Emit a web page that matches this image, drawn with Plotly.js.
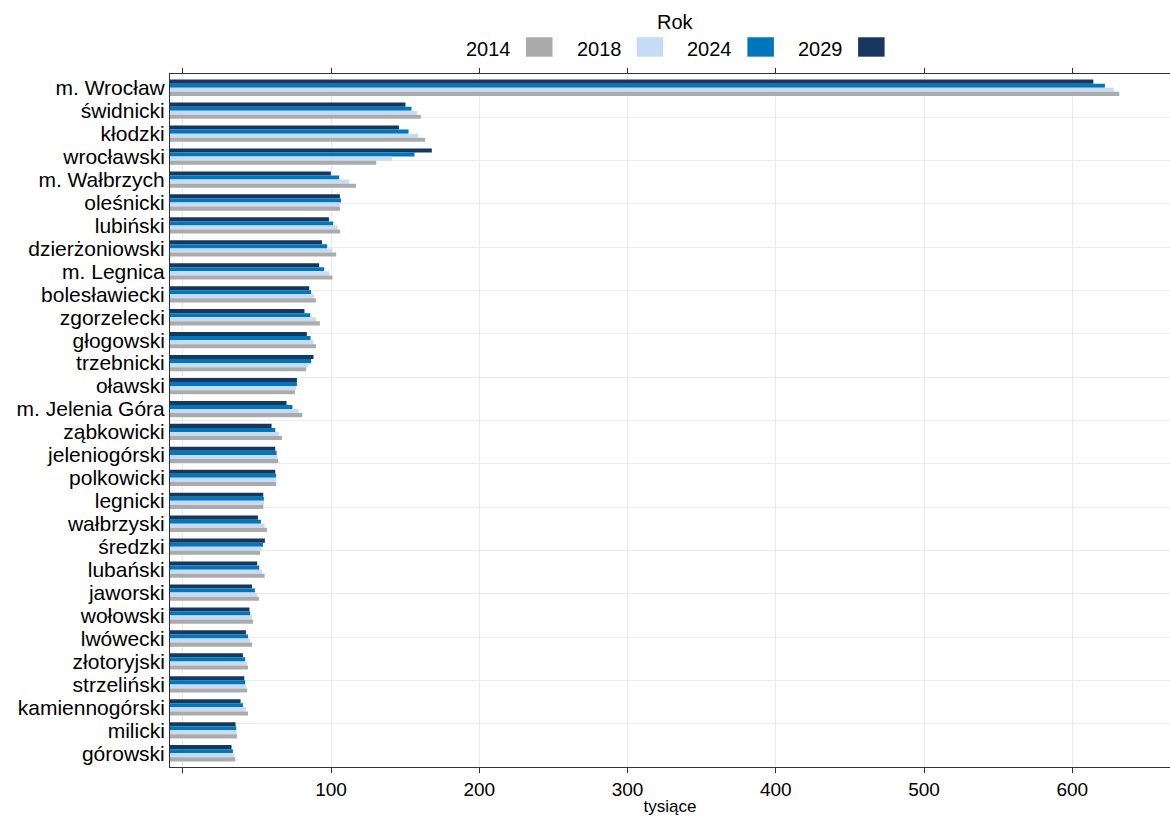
<!DOCTYPE html>
<html>
<head>
<meta charset="utf-8">
<script src="https://cdn.plot.ly/plotly-3.0.1.min.js"></script>
<style>
html, body { margin: 0; padding: 0; background: #ffffff; }
#chart { width: 1170px; height: 816px; }
</style>
</head>
<body>
<div id="chart"></div>
<script>
// ---- data ----
const categories = [
  'm. Wrocław', 'świdnicki', 'kłodzki', 'wrocławski', 'm. Wałbrzych', 'oleśnicki',
  'lubiński', 'dzierżoniowski', 'm. Legnica', 'bolesławiecki', 'zgorzelecki', 'głogowski',
  'trzebnicki', 'oławski', 'm. Jelenia Góra', 'ząbkowicki', 'jeleniogórski', 'polkowicki',
  'legnicki', 'wałbrzyski', 'średzki', 'lubański', 'jaworski', 'wołowski', 'lwówecki',
  'złotoryjski', 'strzeliński', 'kamiennogórski', 'milicki', 'górowski'
];
const years = ['2014', '2018', '2024', '2029'];
const colors = ['#ABABAB', '#C6DBF5', '#0077BD', '#17375E'];

const v2014 = [631.7, 160.6, 163.5, 130.5, 116.8, 106.0, 106.0, 103.5, 101.0, 89.8, 92.5, 89.8, 83.3, 75.6, 80.6,
               66.9, 64.4, 63.0, 54.3, 56.8, 52.1, 55.2, 51.4, 47.3, 46.7, 44.0, 43.5, 44.0, 36.5, 35.4];
const v2018 = [628.1, 157.9, 158.8, 141.1, 112.3, 106.2, 104.4, 100.8, 98.8, 88.5, 89.8, 88.2, 84.8, 76.5, 78.1,
               64.9, 63.9, 63.0, 54.7, 55.2, 53.1, 53.6, 50.0, 46.7, 45.3, 43.5, 42.8, 42.6, 36.3, 34.7];
const v2024 = [622.0, 154.3, 152.3, 156.3, 105.5, 106.7, 101.5, 97.4, 95.4, 86.6, 86.0, 86.2, 86.6, 77.0, 74.0,
               62.4, 63.3, 63.0, 54.7, 52.7, 54.1, 51.6, 48.7, 45.5, 44.0, 42.1, 42.1, 40.6, 36.1, 33.8];
const v2029 = [614.2, 150.2, 145.8, 168.0, 99.9, 106.0, 98.6, 93.9, 92.0, 85.3, 82.1, 83.7, 88.2, 77.0, 70.0,
               59.9, 62.4, 62.4, 54.3, 50.7, 55.4, 50.2, 46.7, 45.0, 42.6, 40.6, 41.5, 39.0, 35.6, 32.9];

const xTickVals = [0, 100, 200, 300, 400, 500, 600];
const xTickText = ['', '100', '200', '300', '400', '500', '600'];
const xTitle = 'tysiące';
const legendTitle = 'Rok';

// ---- chart ----
const series = { '2014': v2014, '2018': v2018, '2024': v2024, '2029': v2029 };
const XMIN = -8.6, XMAX = 665.9;
const FONT = 'Liberation Sans, Arial, Helvetica, sans-serif';

// top-to-bottom within a group: 2029, 2024, 2018, 2014
const traces = years.slice().reverse().map(function (yr) {
  const i = years.indexOf(yr);
  const vals = series[yr];
  return {
    type: 'bar',
    orientation: 'h',
    name: yr,
    y: categories,
    x: vals.map(function (v) { return v - XMIN; }),
    base: XMIN,
    customdata: vals,
    hovertemplate: '%{y}<br>' + yr + ': %{customdata}<extra></extra>',
    marker: { color: colors[i], line: { width: 0 } },
    showlegend: false
  };
});
// helper trace for the overlay axis that carries the horizontal grid
traces.push({ type: 'scatter', mode: 'markers', x: [null], y: [null], yaxis: 'y2', showlegend: false, hoverinfo: 'skip' });

// custom legend (label left of swatch)
const shapes = [];
const annotations = [];
const legStep = 0.1107;
years.forEach(function (yr, i) {
  shapes.push({
    type: 'rect', xref: 'paper', yref: 'paper',
    x0: 0.356 + i * legStep, x1: 0.3825 + i * legStep,
    y0: 1.025, y1: 1.053,
    fillcolor: colors[i], line: { width: 0 }
  });
  annotations.push({
    xref: 'paper', yref: 'paper', x: 0.343 + i * legStep, y: 1.0354,
    xanchor: 'right', yanchor: 'middle', showarrow: false,
    text: yr, font: { family: FONT, size: 20, color: '#000' }
  });
});
annotations.push({
  xref: 'paper', yref: 'paper', x: 0.505, y: 1.075,
  xanchor: 'center', yanchor: 'middle', showarrow: false,
  text: legendTitle, font: { family: FONT, size: 20, color: '#000' }
});

const layout = {
  width: 1170, height: 816,
  margin: { l: 170, r: 0, t: 74, b: 49, pad: 0 },
  paper_bgcolor: '#ffffff', plot_bgcolor: '#ffffff',
  font: { family: FONT, color: '#000' },
  barmode: 'group', bargap: 0.29, bargroupgap: 0,
  showlegend: false,
  xaxis: {
    range: [XMIN, XMAX],
    tickmode: 'array', tickvals: xTickVals, ticktext: xTickText,
    ticks: 'outside', ticklen: 5, tickwidth: 1, tickcolor: '#333',
    showline: true, linecolor: '#333', linewidth: 1, mirror: 'ticks',
    showgrid: true, gridcolor: '#EBEBEB', gridwidth: 1, zeroline: false,
    tickfont: { family: FONT, size: 19, color: '#000' },
    title: { text: xTitle, font: { family: FONT, size: 17, color: '#000' }, standoff: 6 },
    automargin: false, fixedrange: true
  },
  yaxis: {
    type: 'category', categoryorder: 'array', categoryarray: categories,
    tickmode: 'array', tickvals: categories, ticktext: categories,
    range: [categories.length - 0.4, -0.6],
    showgrid: false, showline: true, linecolor: '#333', linewidth: 1,
    ticks: '', zeroline: false,
    tickfont: { family: FONT, size: 21, color: '#000' },
    automargin: false, fixedrange: true
  },
  yaxis2: {
    overlaying: 'y', anchor: 'x', side: 'left',
    range: [0, 16], tick0: 0, dtick: 1,
    showticklabels: false, ticks: '', showline: false, zeroline: false,
    showgrid: true, gridcolor: '#EBEBEB', gridwidth: 1, fixedrange: true
  },
  shapes: shapes,
  annotations: annotations
};

Plotly.newPlot('chart', traces, layout, { displayModeBar: false, staticPlot: false });
</script>
</body>
</html>
